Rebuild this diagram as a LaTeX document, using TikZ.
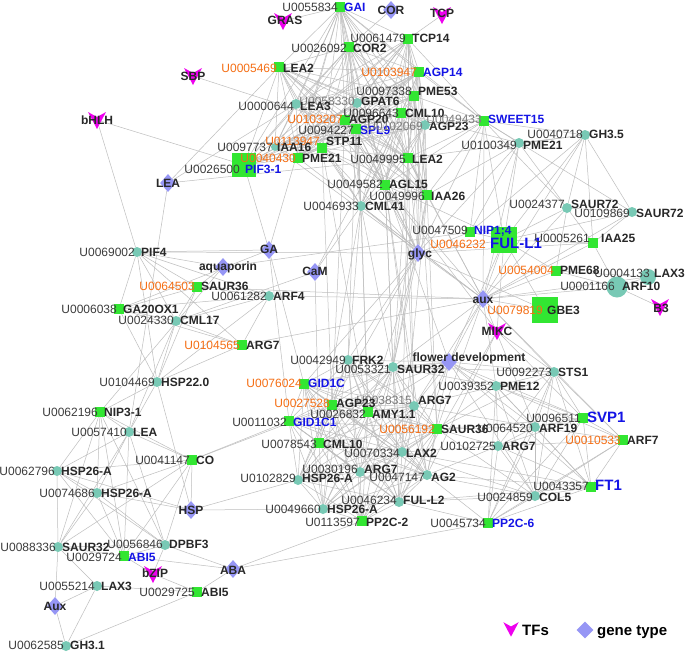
\documentclass[tikz,border=0pt]{standalone}
\usepackage{fontspec}
\setmainfont{Liberation Sans}
\usetikzlibrary{shapes.geometric}
\definecolor{genegreen}{RGB}{50,230,50}
\definecolor{geneteal}{RGB}{120,201,181}
\definecolor{typecol}{RGB}{150,150,245}
\definecolor{tfcol}{RGB}{238,0,238}
\definecolor{idorange}{RGB}{245,110,20}
\definecolor{nameblue}{RGB}{20,20,230}
\definecolor{namedark}{RGB}{40,40,40}
\definecolor{iddark}{RGB}{60,60,60}
\definecolor{idlight}{RGB}{125,125,125}
\definecolor{edgecol}{RGB}{190,190,190}
\pgfdeclarelayer{bg}\pgfdeclarelayer{fg}\pgfsetlayers{bg,main,fg}
\tikzset{
 lnk/.style={draw=edgecol,line width=0.5pt},
 gsq/.style={rectangle,fill=genegreen,minimum size=10pt,inner sep=0pt},
 tci/.style={circle,fill=geneteal,minimum size=10pt,inner sep=0pt},
 gty/.style={diamond,fill=typecol,minimum width=16pt,minimum height=18pt,inner sep=0pt},
 lab/.style={inner sep=0pt,font=\fontsize{12}{14}\selectfont},
 idd/.style={text=iddark}, ido/.style={text=idorange}, idg/.style={text=idlight},
 nmk/.style={text=namedark,font=\fontsize{12}{14}\selectfont\bfseries},
 nmb/.style={text=nameblue,font=\fontsize{12}{14}\selectfont\bfseries},
 nmB/.style={text=nameblue,font=\fontsize{15}{17}\selectfont\bfseries},
 tlab/.style={inner sep=0pt,text=namedark,font=\fontsize{12}{14}\selectfont\bfseries},
 leglab/.style={inner sep=0pt,text=black,font=\fontsize{15}{17}\selectfont\bfseries},
 tfm/.pic={\fill[tfcol] (-9,-8) -- (0,-3) -- (9,-8) -- (0,9) -- cycle;},
}
\newcommand\glab[7]{%
 \begin{pgfonlayer}{fg}
 \node[lab,anchor=base east,#4] at ({#1},{#3+4.3}) {#5};
 \node[lab,anchor=base west,#6] at ({#2},{#3+4.3}) {#7};
 \end{pgfonlayer}}
\newcommand\gn[9]{\node[#1] (#2) at (#3,#4) {};\glab{#3-2}{#3+4}{#5}{#6}{#7}{#8}{#9}}
\newcommand\gtp[6]{\node[gty] (#1) at (#2,#3) {};%
 \begin{pgfonlayer}{fg}\node[tlab,anchor=base] at ({#5},{#6+4.3}) {#4};\end{pgfonlayer}}
\newcommand\tfn[6]{\coordinate (#1) at (#2,#3); \pic at (#1) {tfm};%
 \begin{pgfonlayer}{fg}\node[tlab,anchor=base] at ({#5},{#6+4.3}) {#4};\end{pgfonlayer}}
\newcommand\mkclique[1]{\foreach \a [count=\i] in {#1} {\foreach \b [count=\j] in {#1} {\ifnum\j>\i\relax \draw[lnk] (\a) -- (\b);\fi}}}
\begin{document}
\begin{tikzpicture}[x=1pt,y=-1pt]
\useasboundingbox (0,0) rectangle (685,653);
\begin{pgfonlayer}{bg}\fill[white] (0,0) rectangle (685,653);\end{pgfonlayer}
% ---------- cluster A ----------
\gn{gsq}{gai}{340}{7}{7}{idd}{U0055834}{nmb}{GAI}
\gn{gsq}{tcpf}{408}{39}{38}{idd}{U0061479}{nmk}{TCP14}
\gn{gsq}{cortwo}{349}{47}{48}{idd}{U0026092}{nmk}{COR2}
\gn{gsq}{leatwoa}{279}{67}{68}{ido}{U0005469}{nmk}{LEA2}
\gn{gsq}{agpft}{419}{72}{72}{ido}{U0103947}{nmb}{AGP14}
\gn{gsq}{pmefift}{414}{96}{91}{idd}{U0097338}{nmk}{PME53}
\gn{tci}{gpat}{357}{103}{101}{idg}{U0058330}{nmk}{GPAT6}
\gn{tci}{leathr}{296}{104}{106}{idd}{U0000644}{nmk}{LEA3}
\gn{gsq}{cmltena}{401}{113}{113}{idd}{U0096643}{nmk}{CML10}
\gn{gsq}{agptw}{345}{120}{119}{ido}{U0103207}{nmk}{AGP20}
\gn{gsq}{spl}{356}{129}{130}{idd}{U0094227}{nmb}{SPL9}
\gn{tci}{agpa}{425}{125}{126}{idg}{U0102069}{nmk}{AGP23}
\gn{gsq}{sweet}{484}{121}{119}{idg}{U0049433}{nmb}{SWEET15}
\gn{gsq}{stp}{322}{148}{141}{ido}{U0113947}{nmk}{STP11}
\node[tci,minimum size=8pt] (iaasix) at (275,147) {};\glab{273}{277}{147}{idd}{U0097737}{nmk}{IAA16}
\gn{gsq}{pmeA}{298}{158}{158}{ido}{U0040430}{nmk}{PME21}
\node[gsq,minimum size=24pt] (pif) at (244,165) {};\glab{240}{245}{169}{idd}{U0026500}{nmb}{PIF3-1}
\gn{gsq}{leatwob}{408}{158}{159}{idd}{U0049995}{nmk}{LEA2}
\gn{gsq}{agl}{385}{185}{184}{idd}{U0049582}{nmk}{AGL15}
\gn{gsq}{iaatws}{427}{195}{196}{idd}{U0049996}{nmk}{IAA26}
\gn{tci}{cmlfo}{361}{206}{206}{idd}{U0046933}{nmk}{CML41}
% ---------- cluster B ----------
\gn{tci}{pmeB}{519}{143}{145}{idd}{U0100349}{nmk}{PME21}
\gn{tci}{ghfive}{585}{135}{134}{idd}{U0040718}{nmk}{GH3.5}
\gn{tci}{saurA}{567}{208}{204}{idd}{U0024377}{nmk}{SAUR72}
\gn{tci}{saurB}{632}{212}{213}{idd}{U0109869}{nmk}{SAUR72}
\gn{gsq}{nip}{470}{232}{230}{idd}{U0047509}{nmb}{NIP1;4}
\node[gsq,minimum size=26pt] (fulone) at (504,240) {};\glab{486}{490}{244.5}{ido}{U0046232}{nmB}{FUL-L1}
\node[gsq] (iaatwf) at (593,243) {};\glab{590}{601}{238}{idd}{U0005261}{nmk}{IAA25}
\gn{gsq}{pmesix}{556}{271}{270}{ido}{U0054004}{nmk}{PME68}
\node[tci,minimum size=16pt] (laxA) at (648,277) {};\glab{650}{654}{273}{idd}{U0004133}{nmk}{LAX3}
\node[tci,minimum size=21pt] (arften) at (617,287) {};\glab{615}{622}{286}{idd}{U0001166}{nmk}{ARF10}
\node[gsq,minimum size=26pt] (gbe) at (545,310) {};\glab{543}{547}{310}{ido}{U0079819}{nmk}{GBE3}
% ---------- cluster C ----------
\gn{tci}{pifour}{137}{252}{252}{idd}{U0069002}{nmk}{PIF4}
\gn{gsq}{saurC}{197}{287}{286}{ido}{U0064503}{nmk}{SAUR36}
\gn{gsq}{gaox}{119}{309}{309}{idd}{U0006038}{nmk}{GA20OX1}
\gn{tci}{cmlsev}{176}{321}{320}{idd}{U0024330}{nmk}{CML17}
\gn{tci}{arffour}{269}{296}{296}{idd}{U0061282}{nmk}{ARF4}
\gn{gsq}{argA}{242}{345}{345}{ido}{U0104565}{nmk}{ARG7}
\gn{tci}{hsptt}{157}{382}{382}{idd}{U0104469}{nmk}{HSP22.0}
\gn{gsq}{nipthree}{100}{412}{412}{idd}{U0062196}{nmk}{NIP3-1}
% ---------- cluster D ----------
\gn{tci}{frk}{348}{360}{360}{idd}{U0042949}{nmk}{FRK2}
\gn{tci}{saurD}{393}{367}{369}{idd}{U0053321}{nmk}{SAUR32}
\gn{gsq}{gidc}{304}{384}{383}{ido}{U0076024}{nmb}{GID1C}
\gn{tci}{argB}{414}{406}{400}{idg}{U0038315}{nmk}{ARG7}
\gn{gsq}{agpb}{332}{405}{403}{ido}{U0027528}{nmk}{AGP23}
\gn{gsq}{amy}{368}{412}{414}{idd}{U0026832}{nmk}{AMY1.1}
\gn{gsq}{gidcone}{289}{421}{422}{idd}{U0011032}{nmb}{GID1C1}
\gn{gsq}{saurE}{437}{429}{429}{ido}{U0056192}{nmk}{SAUR36}
\gn{gsq}{cmltenb}{319}{443}{444}{idd}{U0078543}{nmk}{CML10}
\gn{tci}{laxtwo}{402}{452}{453}{idd}{U0070334}{nmk}{LAX2}
\gn{tci}{argC}{360}{472}{469}{idd}{U0030196}{nmk}{ARG7}
\gn{tci}{hspC}{298}{480}{478}{idd}{U0102829}{nmk}{HSP26-A}
\gn{tci}{agtwo}{427}{475}{477}{idd}{U0047147}{nmk}{AG2}
\gn{tci}{fultwo}{399}{502}{500}{idd}{U0046234}{nmk}{FUL-L2}
\gn{tci}{hspD}{323}{509}{509}{idd}{U0049660}{nmk}{HSP26-A}
\gn{gsq}{ppc}{362}{521}{522}{idd}{U0113597}{nmk}{PP2C-2}
% ---------- cluster E ----------
\gn{tci}{pmetw}{496}{386}{386}{idd}{U0039352}{nmk}{PME12}
\gn{tci}{sts}{554}{372}{372}{idd}{U0092273}{nmk}{STS1}
\gn{gsq}{svp}{583}{418}{418}{idd}{U0096511}{nmB}{SVP1}
\gn{tci}{arfnin}{535}{427}{428}{idd}{U0064520}{nmk}{ARF19}
\gn{gsq}{arfsev}{623}{440}{440}{ido}{U0010533}{nmk}{ARF7}
\gn{tci}{argD}{498}{446}{446}{idd}{U0102725}{nmk}{ARG7}
\gn{gsq}{ft}{591}{487}{486}{idd}{U0043357}{nmB}{FT1}
\gn{tci}{col}{535}{496}{497}{idd}{U0024859}{nmk}{COL5}
\gn{gsq}{ppd}{488}{523}{523}{idd}{U0045734}{nmb}{PP2C-6}
% ---------- cluster F ----------
\gn{tci}{leaC}{129}{432}{432}{idd}{U0057410}{nmk}{LEA}
\gn{gsq}{co}{192}{460}{460}{idd}{U0041147}{nmk}{CO}
\gn{tci}{hspA}{57}{471}{471}{idd}{U0062796}{nmk}{HSP26-A}
\gn{tci}{hspB}{97}{493}{493}{idd}{U0074686}{nmk}{HSP26-A}
\gn{tci}{saurF}{58}{547}{547}{idd}{U0088336}{nmk}{SAUR32}
\gn{tci}{dpbf}{165}{545}{544}{idd}{U0056846}{nmk}{DPBF3}
\gn{gsq}{abiA}{124}{556}{557}{idd}{U0029724}{nmb}{ABI5}
\gn{tci}{laxB}{97}{586}{586}{idd}{U0055214}{nmk}{LAX3}
\gn{gsq}{abiB}{197}{592}{592}{idd}{U0029725}{nmk}{ABI5}
\gn{tci}{ghone}{66}{646}{645.5}{idd}{U0062585}{nmk}{GH3.1}
% ---------- gene types ----------
\gtp{tCOR}{391}{10}{COR}{391}{10}
\gtp{tLEA}{168}{183}{LEA}{168}{183}
\gtp{tGA}{269}{250}{GA}{269}{249}
\gtp{tCaM}{315}{272}{CaM}{315}{271}
\gtp{tglyc}{418}{253}{glyc}{420}{253}
\gtp{taux}{483}{299}{aux}{483}{299}
\gtp{aquap}{223}{267}{aquaporin}{228}{266}
\gtp{tfd}{449}{362}{flower development}{469}{357}
\gtp{tHSP}{191}{510}{HSP}{191}{510}
\gtp{tABA}{233}{569}{ABA}{233}{570}
\gtp{tAux}{55}{606}{Aux}{55}{606}
% ---------- TFs ----------
\tfn{fGRAS}{283}{21}{GRAS}{285}{20}
\tfn{fTCP}{442}{15}{TCP}{442}{13}
\tfn{fSBP}{193}{76}{SBP}{193}{76}
\tfn{fbHLH}{97}{120}{bHLH}{97}{120}
\tfn{fMIKC}{497}{331}{MIKC}{497}{331}
\tfn{fB3}{660}{307}{B3}{661}{308}
\tfn{fbZIP}{153}{574}{bZIP}{155}{573}
% ---------- legend ----------
\coordinate (legtf) at (511,629);
\pic[scale=0.85] at (legtf) {tfm};
\node[leglab,anchor=base west] (legtft) at (522,635) {TFs};
\node[gty,minimum width=17pt,minimum height=17pt] (legty) at (585,630) {};
\node[leglab,anchor=base west] (legtyt) at (597,635) {gene type};
% ---------- connectors ----------
\begin{pgfonlayer}{bg}
\foreach \a in {gai,tcpf,cortwo,leatwoa,agpft} {\foreach \b in {pmefift,gpat,leathr,cmltena,agptw,spl,agpa,stp,iaasix,pmeA,pif,leatwob,agl,iaatws,cmlfo} {\draw[lnk] (\a) -- (\b);}}
\foreach \a in {pmefift,gpat,leathr,cmltena,agptw,spl,agpa,stp} {\foreach \b in {iaasix,pmeA,pif,leatwob,agl,iaatws,cmlfo} {\draw[lnk] (\a) -- (\b);}}
\foreach \a/\b in {gai/tcpf,gai/cortwo,gai/leatwoa,gai/agpft,tcpf/cortwo,tcpf/agpft,cortwo/leatwoa,cortwo/agpft,leatwoa/agpft,pmefift/gpat,gpat/leathr,cmltena/agpa,agptw/spl,pmefift/cmltena,leathr/agptw,gpat/spl,cmltena/spl,stp/agptw,iaasix/pmeA,pmeA/pif,leatwob/agl,agl/iaatws,agl/cmlfo,leatwob/iaatws,iaatws/cmlfo,tCOR/cortwo,fGRAS/gai,fTCP/tcpf,fbHLH/pif,spl/fSBP,agptw/agpb,gpat/amy,agpa/saurD,pmefift/saurE,laxA/arften,arften/fB3,gbe/fulone,aquap/nipthree,co/gidcone,ghone/abiB,tglyc/iaatwf} {\draw[lnk] (\a) -- (\b);}
\foreach \h/\l in {sweet/{agpft,tcpf,pmefift,cmltena,agpa,leatwob,iaatws,agl,spl,gai,pmeB,ghfive,saurA,saurB,nip,fulone,taux},
 tglyc/{agpft,agptw,agpa,stp,gpat,spl,agl,leatwob,iaatws,cmlfo,pmefift,sweet,pmeB,gbe,fulone,nip,amy,agpb,frk,saurD,gidc,pifour},
 taux/{iaasix,iaatws,agl,leatwob,cmlfo,pmeA,ghfive,pmeB,saurA,saurB,iaatwf,pmesix,laxA,arften,gbe,fulone,saurC,arffour,argA,saurD,saurE,laxtwo,argB,arfnin,arfsev,pmetw,sts},
 cmlfo/{frk,saurD,cmltenb,amy},
 agl/{saurD,argB,agtwo,fultwo,tfd,fMIKC,fulone},
 leatwob/{saurD,laxtwo,argB,ghfive},
 iaatws/{saurE,laxtwo,saurD,pmeB},
 stp/{amy,agpb}, spl/{frk,gpat}, cmltena/{argB,pmeB},
 ghfive/{pmeB,saurA,saurB,iaatwf,fulone,nip},
 pmeB/{saurA,fulone,nip},
 saurA/{saurB,iaatwf,fulone,pmesix},
 saurB/{iaatwf,fulone},
 iaatwf/{fulone,arften},
 pmesix/{fulone,arften,laxA},
 nip/{fulone,aquap},
 fulone/{tfd,fMIKC},
 pifour/{saurC,gaox,cmlsev,argA,hsptt,arffour,aquap,tGA,fbHLH},
 saurC/{gaox,cmlsev,arffour,hsptt,aquap},
 cmlsev/{gaox,hsptt,argA,arffour,tCaM,leaC},
 gaox/{hsptt,tGA,argA,arffour},
 argA/{hsptt,arffour},
 hsptt/{tHSP,arffour,nipthree,leaC},
 tfd/{saurD,fultwo,agtwo,amy,gidc,argB,frk,svp,ft,col,pmetw,sts,arfnin,co},
 fMIKC/{agtwo,fultwo,svp,sts},
 tGA/{gidc,gidcone,gai,pif},
 tCaM/{cmltena,cmlfo,cmltenb},
 tHSP/{hspC,hspD,hspA,hspB,co},
 tABA/{ppc,ppd,abiA,abiB,dpbf},
 saurE/{pmetw,argD,arfnin,svp,sts,col},
 laxtwo/{argD,col,ft},
 agtwo/{col,ft,ppd,argD},
 fultwo/{ft,ppd,col},
 argB/{pmetw,arfnin},
 saurD/{pmetw,sts},
 laxB/{saurF,tAux,abiB,ghone},
 tAux/{saurF,ghone},
 fbZIP/{abiA,abiB,dpbf},
 tLEA/{leatwoa,leathr,leatwob,leaC}} {\foreach \b in \l {\draw[lnk] (\h) -- (\b);}}
\mkclique{frk,saurD,gidc,argB,agpb,amy,gidcone,saurE,cmltenb,laxtwo,argC,hspC,agtwo,fultwo,hspD,ppc}
\mkclique{pmetw,sts,svp,arfnin,arfsev,argD,ft,col,ppd}
\mkclique{leaC,co,hspA,hspB,saurF,dpbf,abiA,nipthree}
\end{pgfonlayer}
\end{tikzpicture}
\end{document}
